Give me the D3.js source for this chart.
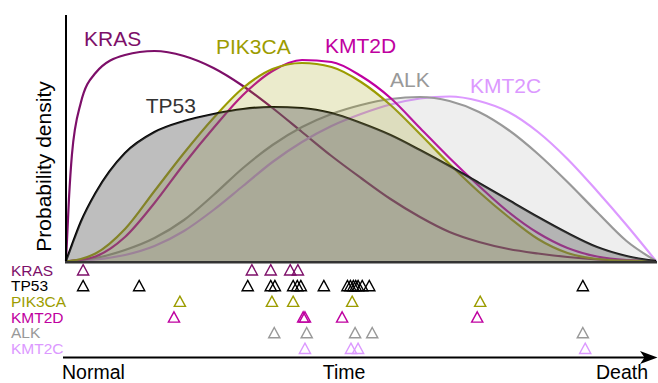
<!DOCTYPE html>
<html><head><meta charset="utf-8">
<script src="https://cdn.jsdelivr.net/npm/d3@7/dist/d3.min.js"></script>
<style>body{margin:0;background:#fff}svg{display:block}text{font-family:"Liberation Sans",Arial,sans-serif}</style>
</head><body><svg id="c" width="658" height="383"></svg>
<script>
// ---- data ----
const genes = ["KRAS", "TP53", "PIK3CA", "KMT2D", "ALK", "KMT2C"];
const timePoints = [0, 0.005, 0.01, 0.025, 0.05, 0.1, 0.15, 0.2, 0.25, 0.3, 0.35, 0.4, 0.45, 0.5, 0.55, 0.6, 0.65, 0.7, 0.75, 0.8, 0.85, 0.9, 0.95, 1];
const krasDensity   = [0, 0.62, 1.06, 1.58, 1.88, 2.06, 2.10, 2.05, 1.93, 1.75, 1.53, 1.29, 1.05, 0.83, 0.62, 0.44, 0.29, 0.19, 0.12, 0.075, 0.04, 0.017, 0.005, 0];
const tp53Density   = [0, 0.08, 0.16, 0.39, 0.68, 1.08, 1.29, 1.40, 1.47, 1.52, 1.54, 1.53, 1.48, 1.38, 1.26, 1.11, 0.95, 0.78, 0.61, 0.44, 0.28, 0.14, 0.05, 0];
const pik3caDensity = [0, 0, 0.003, 0.02, 0.075, 0.32, 0.70, 1.08, 1.43, 1.73, 1.92, 1.98, 1.94, 1.79, 1.56, 1.27, 0.97, 0.69, 0.44, 0.22, 0.08, 0.02, 0.003, 0];
const kmt2dDensity  = [0, 0, 0.002, 0.01, 0.045, 0.24, 0.58, 0.97, 1.33, 1.66, 1.90, 2.01, 1.99, 1.85, 1.63, 1.33, 1.03, 0.75, 0.49, 0.28, 0.13, 0.045, 0.01, 0];
const alkDensity    = [0, 0, 0.002, 0.01, 0.03, 0.11, 0.23, 0.41, 0.66, 0.93, 1.16, 1.34, 1.47, 1.56, 1.62, 1.64, 1.60, 1.49, 1.31, 1.07, 0.79, 0.49, 0.20, 0];
const kmt2cDensity  = [0, 0, 0, 0.005, 0.015, 0.06, 0.15, 0.30, 0.51, 0.75, 0.99, 1.19, 1.35, 1.47, 1.565, 1.625, 1.645, 1.60, 1.49, 1.29, 1.02, 0.70, 0.36, 0];
const krasEvents   = [0.029, 0.315, 0.347, 0.380, 0.393];
const tp53Events   = [0.029, 0.124, 0.308, 0.347, 0.354, 0.385, 0.392, 0.398, 0.437, 0.477, 0.482, 0.487, 0.491, 0.495, 0.502, 0.514, 0.876];
const pik3caEvents = [0.193, 0.349, 0.385, 0.485, 0.702];
const kmt2dEvents  = [0.183, 0.402, 0.405, 0.468, 0.697];
const alkEvents    = [0.353, 0.408, 0.490, 0.519, 0.876];
const kmt2cEvents  = [0.405, 0.483, 0.495, 0.880];
const axisLabels = ["Normal", "Time", "Death"];
const yTitle = "Probability density";

// ---- styles ----
const colors = {KRAS:"#7d0f69", TP53:"#000000", PIK3CA:"#9c9c00", KMT2D:"#bf00a0", ALK:"#999999", KMT2C:"#dc99ff"};
const densities = {KRAS:krasDensity, TP53:tp53Density, PIK3CA:pik3caDensity, KMT2D:kmt2dDensity, ALK:alkDensity, KMT2C:kmt2cDensity};
const events = {KRAS:krasEvents, TP53:tp53Events, PIK3CA:pik3caEvents, KMT2D:kmt2dEvents, ALK:alkEvents, KMT2C:kmt2cEvents};

const svg = d3.select("#c");
const x = d3.scaleLinear().domain([0, 1]).range([66, 656]);
const y = d3.scaleLinear().domain([0, 2.47]).range([261, 14]);
const row = d3.scalePoint().domain(genes).range([270, 348.5]);

const line = d3.line().x((d, i) => x(timePoints[i])).y(d => y(d)).curve(d3.curveMonotoneX);
const area = d3.area().x((d, i) => x(timePoints[i])).y0(y(0)).y1(d => y(d)).curve(d3.curveMonotoneX);

// lines
["KRAS", "KMT2C", "ALK", "KMT2D", "PIK3CA", "TP53"].forEach(g => {
  svg.append("path").attr("d", line(densities[g])).attr("fill", "none")
    .attr("stroke", colors[g]).attr("stroke-width", 2.2);
});
// fills on top
const fills = [["ALK", "#999999", 0.167], ["PIK3CA", "#999900", 0.2], ["TP53", "#606060", 0.41]];
fills.forEach(([g, c, a]) => {
  svg.append("path").attr("d", area(densities[g])).attr("fill", c).attr("fill-opacity", a);
});

// axes
svg.append("line").attr("x1", 66).attr("x2", 66).attr("y1", 15).attr("y2", 262.5).attr("stroke", "#000").attr("stroke-width", 2);
svg.append("line").attr("x1", 65).attr("x2", 657).attr("y1", 262.3).attr("y2", 262.3).attr("stroke", "#333").attr("stroke-width", 2.6);

svg.append("text").attr("transform", "translate(51,166.5) rotate(-90)").attr("text-anchor", "middle")
  .attr("font-size", 21).attr("fill", "#000").text(yTitle);

// top labels
const topLabels = {KRAS:[84, 45.7], PIK3CA:[216, 54], KMT2D:[325, 53.3], TP53:[145.7, 112.7], ALK:[390, 87.3], KMT2C:[470, 93.3]};
genes.forEach(g => {
  svg.append("text").attr("x", topLabels[g][0]).attr("y", topLabels[g][1]).attr("font-size", 21)
    .attr("fill", g === "TP53" ? "#333" : colors[g]).text(g);
});

// event rows
const tri = (cx, cy) => { const p = d3.path(); p.moveTo(cx, cy - 5.3); p.lineTo(cx + 5.6, cy + 5); p.lineTo(cx - 5.6, cy + 5); p.closePath(); return p.toString(); };
genes.forEach(g => {
  svg.append("text").attr("x", 11).attr("y", row(g) + 5.6).attr("font-size", 15.5).attr("fill", colors[g]).text(g);
  svg.append("g").selectAll("path").data(events[g]).join("path")
    .attr("d", t => tri(x(t), row(g))).attr("fill", "none").attr("stroke", colors[g]).attr("stroke-width", 1.4);
});

// time arrow
svg.append("line").attr("x1", 63).attr("x2", 648).attr("y1", 357.5).attr("y2", 357.5).attr("stroke", "#000").attr("stroke-width", 2);
svg.append("path").attr("d", "M657.5,357.5L640,351L644.5,357.5L640,364Z").attr("fill", "#000");
svg.append("text").attr("x", 62).attr("y", 379).attr("font-size", 19.5).text(axisLabels[0]);
svg.append("text").attr("x", 344).attr("y", 379).attr("font-size", 19.5).attr("text-anchor", "middle").text(axisLabels[1]);
svg.append("text").attr("x", 648).attr("y", 379).attr("font-size", 19.5).attr("text-anchor", "end").text(axisLabels[2]);
</script></body></html>
